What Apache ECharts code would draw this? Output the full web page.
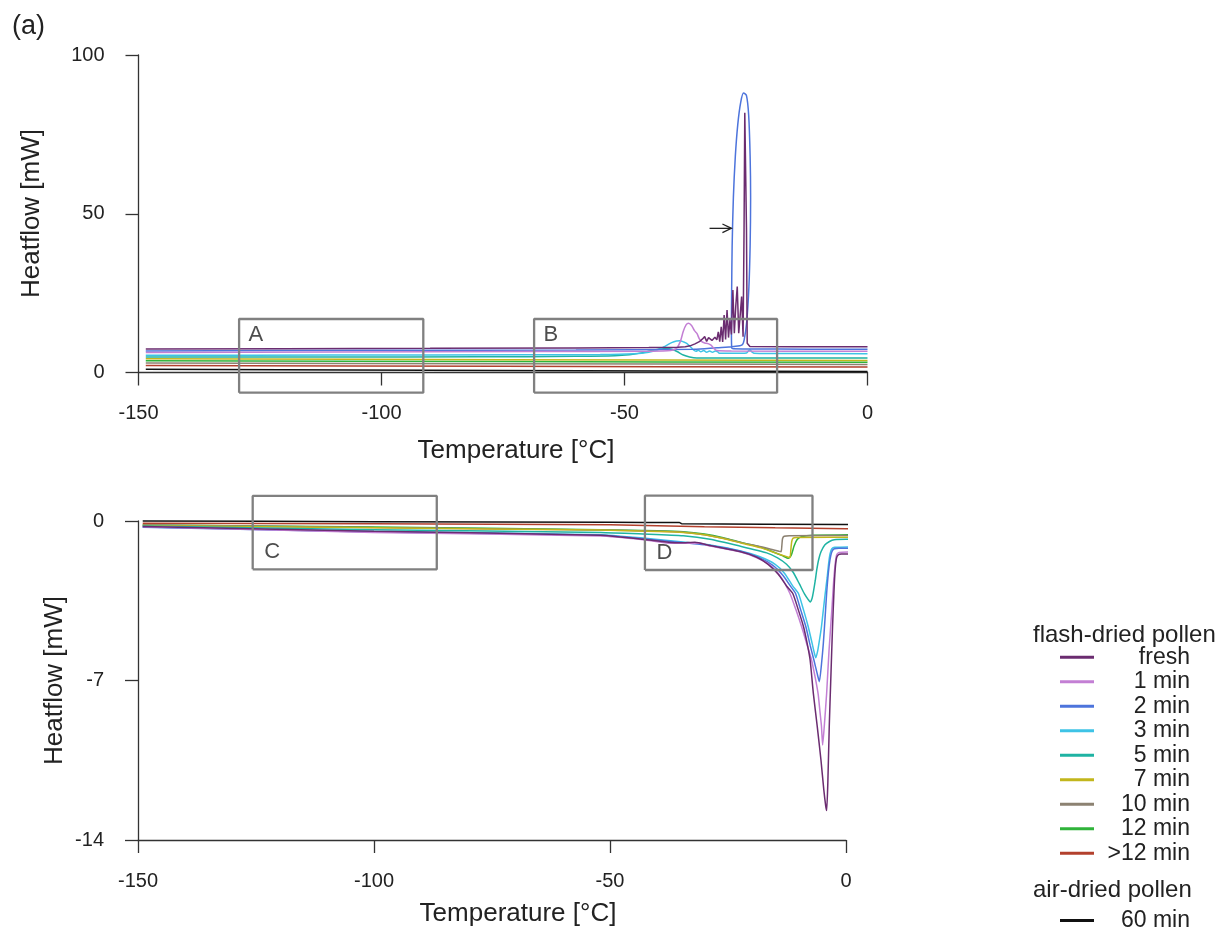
<!DOCTYPE html>
<html>
<head>
<meta charset="utf-8">
<title>DSC heatflow of pollen</title>
<script src="https://cdn.jsdelivr.net/npm/echarts@6/dist/echarts.min.js"></script>
<style>
  html, body { margin: 0; padding: 0; background: #ffffff; }
  #chart { width: 1220px; height: 938px; }
</style>
</head>
<body>
<div id="chart"></div>
<script>
// ---- axis ticks ----
const tempTicks = [-150, -100, -50, 0];           // °C
const coolFlowTicks = [0, 50, 100];               // mW, cooling panel
const heatFlowTicks = [-14, -7, 0];               // mW, heating panel

// ---- runs ----
const runNames = ['fresh', '1 min', '2 min', '3 min', '5 min', '7 min', '10 min', '12 min', '>12 min', '60 min'];
const runColors = ['#6b2c70', '#c37fd4', '#4d74dc', '#3ec3e6', '#1fb3a3', '#c2b61c', '#8c8272', '#2fb33a', '#b3402d', '#111111'];

// Cooling scans: [temperature °C, heatflow mW]
const coolFresh = [[-148.5,7.4],[-120,7.5],[-90,7.6],[-60,7.75],[-45,7.85],[-39,7.95],[-37.5,8.1],[-36.5,8.4],[-35.5,9.0],[-34.6,9.7],[-34.0,10.5],[-33.5,11.3],[-33.1,9.8],[-32.7,11.0],[-32.4,11.5],[-32.0,10.1],[-31.7,9.7],[-31.4,11.1],[-31.0,10.3],[-30.7,12.8],[-30.4,9.7],[-30.1,14.4],[-29.8,9.6],[-29.5,18.1],[-29.2,10.4],[-28.9,19.7],[-28.6,11.0],[-28.3,16.5],[-28.0,12.0],[-27.7,26.0],[-27.4,12.4],[-27.1,21.0],[-26.8,27.1],[-26.5,12.4],[-26.2,18.0],[-25.9,23.9],[-25.6,11.3],[-25.4,45.0],[-25.25,81.8],[-25.05,82.3],[-24.9,45.0],[-24.75,9.2],[-24.2,8.2],[-15,8.1],[0,8.1]];
const coolOneMin = [[-148.5,6.3],[-110,6.45],[-70,6.6],[-45,6.7],[-40.5,6.9],[-39.3,7.6],[-38.5,9.8],[-37.9,13.0],[-37.3,15.1],[-36.8,15.5],[-36.2,14.8],[-35.6,13.2],[-35.1,12.3],[-34.6,10.6],[-34.1,9.7],[-33.5,9.3],[-32.8,9.1],[-32.2,8.6],[-31.6,7.6],[-31.0,6.9],[-28,6.75],[0,6.7]];
const coolTwoMin = [[0,7.3],[-12,7.35],[-24,7.4],[-27.6,7.45],[-27.95,7.8],[-28.0,14],[-27.95,26],[-27.85,40],[-27.6,55],[-27.2,68],[-26.7,78],[-26.1,85],[-25.5,88],[-24.9,87.2],[-24.45,81],[-24.15,68],[-24.05,55],[-24.15,40],[-24.4,27],[-24.85,16],[-25.35,10.5],[-25.8,8.7],[-27.5,8.2],[-31,7.8],[-35.8,7.3],[-60,7.1],[-100,7.0],[-148.5,6.8]];
const coolThreeMin = [[-148.5,5.4],[-110,5.5],[-70,5.6],[-55,5.65],[-48,5.9],[-45,6.4],[-43,7.2],[-41.5,8.4],[-40.3,9.4],[-39.3,9.9],[-38.6,10.0],[-37.8,9.6],[-37.2,9.2],[-36.5,8.2],[-35.8,7.1],[-35.3,6.7],[-34.8,7.0],[-34.3,6.5],[-33.7,6.9],[-33.1,6.4],[-32.5,6.8],[-31.9,6.4],[-31.3,6.8],[-30.8,6.5],[-30.5,6.1],[-26,6.05],[-24.9,6.15],[-24.5,6.8],[-24.2,7.1],[-23.8,6.5],[-23.4,6.1],[-20,6.0],[0,5.9]];
const coolFiveMin = [[-148.5,4.9],[-110,4.9],[-80,4.95],[-70,5.0],[-60,5.1],[-52,5.3],[-49,5.6],[-46.8,6.1],[-44.5,6.9],[-42.5,7.5],[-41.5,7.6],[-40.3,7.3],[-39.2,6.6],[-37.9,5.5],[-36.6,4.9],[-35.1,4.6],[-30,4.55],[0,4.6]];
const coolSevenMin = [[-148.5,4.3],[-75,4.05],[0,3.8]];
const coolTenMin = [[-148.5,3.0],[-75,2.75],[0,2.5]];
const coolTwelveMin = [[-148.5,3.7],[-75,3.45],[0,3.2]];
const coolOverTwelve = [[-148.5,2.2],[-75,1.95],[0,1.7]];
const coolAirDried = [[-148.5,1.0],[-75,0.65],[0,0.3]];

// Heating scans: [temperature °C, heatflow mW]
const heatFresh = [[-149,-0.24],[-100,-0.45],[-52,-0.62],[-43,-0.8],[-38,-0.92],[-35,-0.96],[-32,-0.93],[-28.8,-1.08],[-22.5,-1.34],[-19,-1.58],[-16.5,-1.9],[-14.3,-2.35],[-12.6,-2.85],[-11.3,-3.17],[-10.1,-3.9],[-9.0,-4.64],[-8.2,-5.4],[-7.6,-6.1],[-6.9,-7.6],[-6.1,-9.0],[-5.3,-10.5],[-4.7,-11.8],[-4.3,-12.5],[-4.1,-12.71],[-3.85,-11.5],[-3.55,-9.03],[-3.2,-6.8],[-2.85,-4.64],[-2.55,-3.1],[-2.3,-2.15],[-2.0,-1.62],[-1.6,-1.48],[-1,-1.45],[4.4,-1.45]];
const heatOneMin = [[-149,-0.25],[-100,-0.5],[-52,-0.66],[-43,-0.82],[-37,-0.98],[-34.5,-0.98],[-31,-0.97],[-28.8,-1.1],[-22.5,-1.35],[-19,-1.6],[-16,-1.95],[-13.8,-2.45],[-11.9,-3.17],[-10.6,-3.9],[-9.4,-4.64],[-8.3,-5.4],[-7.3,-6.1],[-6.5,-6.9],[-5.9,-7.6],[-5.5,-8.4],[-5.2,-9.0],[-4.95,-9.83],[-4.6,-9.0],[-4.1,-7.56],[-3.6,-5.7],[-3.0,-3.9],[-2.6,-2.6],[-2.3,-1.9],[-2.0,-1.5],[-1.5,-1.38],[4.4,-1.36]];
const heatTwoMin = [[-149,-0.27],[-100,-0.48],[-52,-0.63],[-43,-0.78],[-34.5,-0.95],[-28.8,-1.08],[-22.5,-1.32],[-18.5,-1.6],[-15.5,-1.95],[-13.3,-2.4],[-11.8,-2.85],[-10.7,-3.17],[-9.6,-3.9],[-8.5,-4.64],[-7.6,-5.45],[-6.8,-6.1],[-6.1,-6.7],[-5.65,-7.05],[-5.2,-6.3],[-4.8,-5.37],[-4.45,-4.3],[-4.1,-3.17],[-3.75,-2.3],[-3.4,-1.71],[-3.0,-1.35],[-2.5,-1.22],[-1.5,-1.2],[4.4,-1.2]];
const heatThreeMin = [[-149,-0.26],[-100,-0.45],[-52,-0.6],[-43,-0.75],[-34.5,-0.92],[-28.8,-1.05],[-22.5,-1.3],[-18.5,-1.55],[-15,-1.9],[-13,-2.3],[-11.3,-2.85],[-10.1,-3.17],[-9.0,-3.9],[-8.0,-4.64],[-7.2,-5.35],[-6.7,-5.8],[-6.4,-6.0],[-6.0,-5.7],[-5.6,-5.2],[-5.2,-4.64],[-4.8,-3.9],[-4.4,-3.17],[-4.0,-2.5],[-3.7,-1.9],[-3.4,-1.45],[-3.0,-1.22],[-2.4,-1.15],[4.4,-1.13]];
const heatFiveMin = [[-149,-0.22],[-100,-0.38],[-52,-0.5],[-43,-0.57],[-34.5,-0.65],[-28.8,-0.8],[-22.5,-1.1],[-16.8,-1.4],[-14.5,-1.62],[-12.6,-1.9],[-11.2,-2.25],[-9.9,-2.75],[-8.8,-3.2],[-8.0,-3.45],[-7.6,-3.55],[-7.2,-3.4],[-6.9,-3.1],[-6.5,-2.6],[-6.2,-2.15],[-5.8,-1.7],[-5.3,-1.35],[-4.5,-1.05],[-3.5,-0.9],[-2.5,-0.82],[0,-0.8],[4.4,-0.8]];
const heatSevenMin = [[-149,-0.2],[-100,-0.3],[-52,-0.4],[-40,-0.46],[-34.5,-0.5],[-30,-0.6],[-26,-0.77],[-22,-0.98],[-18,-1.18],[-15.5,-1.36],[-13.5,-1.5],[-12.2,-1.59],[-11.85,-1.6],[-11.7,-1.3],[-11.5,-0.9],[-11.2,-0.75],[-10.5,-0.72],[4.4,-0.71]];
const heatTenMin = [[-149,-0.17],[-100,-0.29],[-52,-0.39],[-40,-0.45],[-34.5,-0.49],[-30,-0.6],[-26,-0.76],[-22,-0.96],[-18,-1.13],[-15.5,-1.26],[-14.2,-1.33],[-13.75,-1.35],[-13.6,-1.1],[-13.45,-0.78],[-13.1,-0.67],[-12,-0.65],[4.4,-0.63]];
const heatTwelveMin = [[-149,-0.18],[-100,-0.26],[-52,-0.38],[-40,-0.43],[-34.5,-0.47],[-30,-0.57],[-26,-0.73],[-22,-0.95],[-18,-1.15],[-15.5,-1.35],[-13.5,-1.52],[-12.2,-1.64],[-11.6,-1.5],[-11.0,-1.1],[-10.3,-0.8],[-9.3,-0.68],[-7,-0.63],[4.4,-0.6]];
const heatOverTwelve = [[-149,-0.1],[-100,-0.12],[-50,-0.17],[-30,-0.25],[-15,-0.3],[0,-0.34],[4.4,-0.36]];
const heatAirDried = [[-149,0],[-100,-0.03],[-50,-0.06],[-35.3,-0.07],[-34.8,-0.12],[0,-0.15],[4.4,-0.16]];

// Regions shown enlarged elsewhere: temperature span, heatflow span
const coolRegions = [
  { name: 'A', temp: [-129.3, -91.4], flow: [-6.36, 16.85] },
  { name: 'B', temp: [-68.6, -18.6], flow: [-6.36, 16.85] }
];
const heatRegions = [
  { name: 'C', temp: [-125.7, -86.7], flow: [-2.12, 1.10] },
  { name: 'D', temp: [-42.6, -7.1], flow: [-2.15, 1.11] }
];

// Arrow pointing at the freezing onset of the 2 min sample
const onsetArrow = [[-32.5, 45.4, -28.0, 45.4]];

const coolRuns = [coolFresh, coolOneMin, coolTwoMin, coolThreeMin, coolFiveMin, coolSevenMin, coolTenMin, coolTwelveMin, coolOverTwelve, coolAirDried];
const heatRuns = [heatFresh, heatOneMin, heatTwoMin, heatThreeMin, heatFiveMin, heatSevenMin, heatTenMin, heatTwelveMin, heatOverTwelve, heatAirDried];

// ---- styling ----
const FONT = '"Liberation Sans", Arial, Helvetica, sans-serif';
const INK = '#222222';
const AXIS = '#333333';

function tempAxis(gridIndex) {
  return {
    type: 'value', gridIndex,
    min: tempTicks[0], max: tempTicks[tempTicks.length - 1],
    interval: tempTicks[1] - tempTicks[0],
    axisLine: { show: true, onZero: false, lineStyle: { color: AXIS, width: 1.3 } },
    axisTick: { show: true, inside: false, length: 13, lineStyle: { color: AXIS, width: 1.3 } },
    axisLabel: { margin: 31, fontSize: 20, color: INK, fontFamily: FONT },
    splitLine: { show: false }
  };
}
function flowAxis(gridIndex, ticks) {
  return {
    type: 'value', gridIndex,
    min: ticks[0], max: ticks[ticks.length - 1],
    interval: ticks[1] - ticks[0],
    axisLine: { show: true, onZero: false, lineStyle: { color: AXIS, width: 1.3 } },
    axisTick: { show: true, inside: false, length: 13, lineStyle: { color: AXIS, width: 1.3 } },
    axisLabel: { margin: 34, fontSize: 20, color: INK, fontFamily: FONT },
    splitLine: { show: false }
  };
}

function runSeries(data, i, panel) {
  const spiky = panel === 0 && i === 0;
  return {
    type: 'line', name: runNames[i], data,
    xAxisIndex: panel, yAxisIndex: panel,
    showSymbol: false, symbol: 'none',
    smooth: spiky ? false : (panel === 0 ? 0.3 : 0.2),
    clip: false, silent: true,
    color: runColors[i],
    itemStyle: { color: runColors[i] },
    lineStyle: { color: runColors[i], width: 1.5 },
    emphasis: { disabled: true },
    z: 2
  };
}

function regionSeries(r, panel) {
  const [t0, t1] = r.temp, [f0, f1] = r.flow;
  return {
    type: 'line', name: 'region ' + r.name,
    data: [[t0, f0], [t1, f0], [t1, f1], [t0, f1], [t0, f0]],
    xAxisIndex: panel, yAxisIndex: panel,
    showSymbol: false, symbol: 'none', clip: false, silent: true,
    lineStyle: { color: '#808080', width: 2.3 },
    itemStyle: { color: '#808080' },
    emphasis: { disabled: true },
    z: 3
  };
}

function regionLabels(regions, panel) {
  // letters sit at the upper-left corner (cooling) or lower-left corner (heating)
  const data = regions.map(r => ({
    name: r.name,
    value: [r.temp[0], panel === 0 ? r.flow[1] : r.flow[0]]
  }));
  return {
    type: 'scatter', name: 'region labels ' + panel, data,
    xAxisIndex: panel, yAxisIndex: panel,
    symbolSize: 1, itemStyle: { color: 'rgba(0,0,0,0)' },
    clip: false, silent: true,
    label: {
      show: true, formatter: '{b}', position: 'right', distance: 0,
      offset: panel === 0 ? [9, 16] : [11, -17],
      fontSize: 22, color: INK, fontFamily: FONT
    },
    emphasis: { disabled: true },
    z: 4
  };
}

const arrowSeries = {
  type: 'custom', name: 'onset arrow', data: onsetArrow,
  xAxisIndex: 0, yAxisIndex: 0,
  encode: { x: [0, 2], y: [1, 3] },
  clip: false, silent: true, z: 5,
  renderItem: function (params, api) {
    const a = api.coord([api.value(0), api.value(1)]);
    const b = api.coord([api.value(2), api.value(3)]);
    const ang = Math.atan2(b[1] - a[1], b[0] - a[0]);
    const len = 10, spread = 0.45;
    const h1 = [b[0] - len * Math.cos(ang - spread), b[1] - len * Math.sin(ang - spread)];
    const h2 = [b[0] - len * Math.cos(ang + spread), b[1] - len * Math.sin(ang + spread)];
    const st = { stroke: '#222', lineWidth: 1.3, fill: null };
    return {
      type: 'group',
      children: [
        { type: 'line', shape: { x1: a[0], y1: a[1], x2: b[0], y2: b[1] }, style: st },
        { type: 'polyline', shape: { points: [h1, b, h2] }, style: st }
      ]
    };
  }
};

const series = [];
for (let i = runNames.length - 1; i >= 0; i--) series.push(runSeries(coolRuns[i], i, 0));
for (let i = runNames.length - 1; i >= 0; i--) series.push(runSeries(heatRuns[i], i, 1));
coolRegions.forEach(r => series.push(regionSeries(r, 0)));
heatRegions.forEach(r => series.push(regionSeries(r, 1)));
series.push(regionLabels(coolRegions, 0));
series.push(regionLabels(heatRegions, 1));
series.push(arrowSeries);

function txt(x, y, text, opts) {
  opts = opts || {};
  return {
    type: 'text', x, y, rotation: opts.rotation || 0, silent: true,
    style: {
      text, fill: INK, fontSize: opts.size || 26, fontFamily: FONT,
      align: opts.align || 'center', verticalAlign: 'middle',
      textAlign: opts.align || 'center', textVerticalAlign: 'middle'
    }
  };
}

function legendBlock(names, top) {
  return {
    data: names, orient: 'vertical', left: 1060, top,
    icon: 'rect', itemWidth: 34, itemHeight: 3, itemGap: 1.5,
    padding: 0, selectedMode: false,
    formatter: name => '{r|' + name + '}',
    textStyle: {
      color: INK, fontSize: 23, fontFamily: FONT,
      rich: { r: { width: 91, align: 'right', fontSize: 23, lineHeight: 20, fontFamily: FONT, color: INK } }
    }
  };
}

const option = {
  animation: false,
  backgroundColor: '#ffffff',
  grid: [
    { left: 138.5, top: 55, width: 729, height: 317.5, containLabel: false, outerBoundsMode: 'none' },
    { left: 138, top: 521, width: 708, height: 319, containLabel: false, outerBoundsMode: 'none' }
  ],
  xAxis: [tempAxis(0), tempAxis(1)],
  yAxis: [flowAxis(0, coolFlowTicks), flowAxis(1, heatFlowTicks)],
  legend: [
    legendBlock(runNames.slice(0, 9), 645.7),
    legendBlock(runNames.slice(9), 909)
  ],
  graphic: [
    txt(12, 27, '(a)', { align: 'left', size: 27 }),
    txt(516, 451, 'Temperature [°C]'),
    txt(518, 914, 'Temperature [°C]'),
    txt(32, 213.5, 'Heatflow [mW]', { rotation: Math.PI / 2 }),
    txt(55, 680.5, 'Heatflow [mW]', { rotation: Math.PI / 2 }),
    txt(1033, 635, 'flash-dried pollen', { align: 'left', size: 24 }),
    txt(1033, 890, 'air-dried pollen', { align: 'left', size: 24 })
  ],
  series
};

const chart = echarts.init(document.getElementById('chart'), null, { renderer: 'canvas' });
chart.setOption(option);
</script>
</body>
</html>
